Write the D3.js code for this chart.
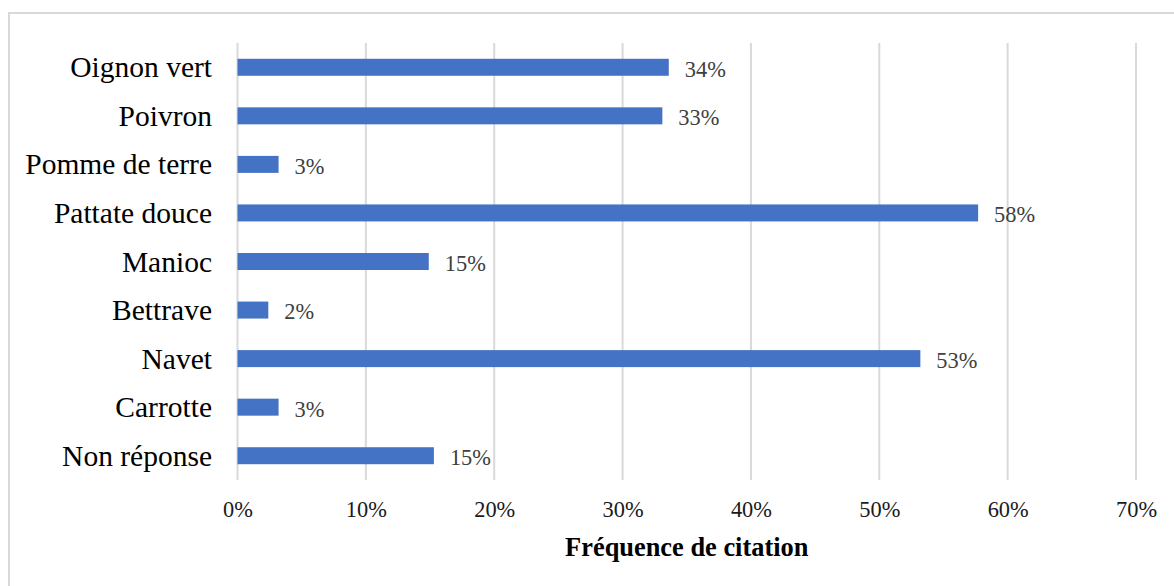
<!DOCTYPE html>
<html>
<head>
<meta charset="utf-8">
<script src="https://cdn.jsdelivr.net/npm/d3@7"></script>
<style>
  html, body { margin: 0; padding: 0; background: #fff; }
  svg { display: block; }
  text { font-family: "Liberation Serif", "Times New Roman", serif; }
</style>
</head>
<body>
<svg id="chart" width="1174" height="586"></svg>
<script>
// Crops cited, top to bottom
const categories = ["Oignon vert", "Poivron", "Pomme de terre", "Pattate douce", "Manioc", "Bettrave", "Navet", "Carrotte", "Non réponse"];
// Citation frequency (%)
const frequencies = [33.6, 33.1, 3.2, 57.7, 14.9, 2.4, 53.2, 3.2, 15.3];
// Axis ticks (%)
const tickValues = [0, 10, 20, 30, 40, 50, 60, 70];
const axisTitle = "Fréquence de citation";

const svg = d3.select("#chart");
const W = 1174, H = 586;
const plot = { left: 237.5, right: 1136, top: 43, bottom: 480 };

// Outer frame
svg.append("rect")
  .attr("x", 9).attr("y", 13)
  .attr("width", W + 20).attr("height", H + 20)
  .attr("fill", "none").attr("stroke", "#d9d9d9").attr("stroke-width", 2);

const x = d3.scaleLinear().domain([0, 70]).range([plot.left, plot.right]);
const y = d3.scaleBand().domain(categories).range([plot.top, plot.bottom])
  .paddingInner(0.65).paddingOuter(0.325);

// Vertical gridlines
svg.append("g").selectAll("line").data(tickValues).join("line")
  .attr("x1", d => x(d)).attr("x2", d => x(d))
  .attr("y1", plot.top).attr("y2", plot.bottom)
  .attr("stroke", "#d9d9d9").attr("stroke-width", 2);

// X tick labels
const xAxis = d3.axisBottom(x).tickValues(tickValues).tickFormat(d => d + "%").tickSize(0).tickPadding(0);
const gx = svg.append("g").attr("transform", `translate(0,${plot.bottom})`).call(xAxis);
gx.select(".domain").remove();
gx.selectAll("text")
  .attr("y", 37).attr("dy", null)
  .attr("font-size", 22.4).attr("fill", "#1a1a1a")
  .style("font-family", '"Liberation Serif", "Times New Roman", serif');

// Category labels
const yAxis = d3.axisLeft(y).tickSize(0).tickPadding(0);
const gy = svg.append("g").attr("transform", `translate(212,0)`).call(yAxis);
gy.select(".domain").remove();
gy.selectAll("text")
  .attr("x", 0).attr("dy", "0.34em")
  .attr("font-size", 29.5).attr("fill", "#000")
  .style("font-family", '"Liberation Serif", "Times New Roman", serif');

const data = categories.map((c, i) => ({ c, v: frequencies[i] }));

// Bars
svg.append("g").selectAll("rect").data(data).join("rect")
  .attr("x", x(0))
  .attr("y", d => y(d.c))
  .attr("width", d => x(d.v) - x(0))
  .attr("height", y.bandwidth())
  .attr("fill", "#4472c4");

// Value labels
svg.append("g").selectAll("text").data(data).join("text")
  .attr("x", d => x(d.v) + 16)
  .attr("y", d => y(d.c) + y.bandwidth() / 2)
  .attr("dy", "0.42em")
  .attr("font-size", 22.4)
  .attr("fill", "#404040")
  .text(d => Math.round(d.v) + "%");

// Axis title
svg.append("text")
  .attr("x", (plot.left + plot.right) / 2)
  .attr("y", 556)
  .attr("text-anchor", "middle")
  .attr("font-size", 26.4)
  .attr("font-weight", "bold")
  .attr("fill", "#000")
  .text(axisTitle);
</script>
</body>
</html>
